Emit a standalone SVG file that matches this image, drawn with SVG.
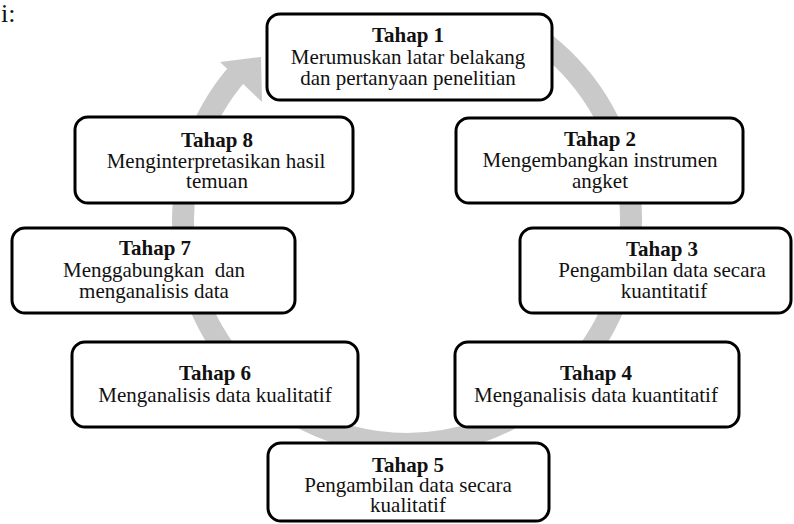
<svg xmlns="http://www.w3.org/2000/svg" width="794" height="524" viewBox="0 0 794 524">
<style>
.box{fill:#fff;stroke:#000;stroke-width:3}
text{font-family:"Liberation Serif","Times New Roman",serif;font-size:21px;fill:#111;text-anchor:middle}
.t{font-weight:bold}
.ring{fill:none;stroke:#c9c9c9;stroke-width:22}
</style>
<rect width="794" height="524" fill="#fff"/>
<text x="1" y="22" style="text-anchor:start;font-size:26px">i:</text>
<g id="connectors">
<path class="ring" d="M 519 26 A 224 224 0 1 1 237.95 73.04"/>
<polygon points="220,62 262,102 261,57" fill="#c9c9c9"/>
</g>
<g id="node1">
<rect class="box" x="267" y="14" width="285" height="86" rx="13"/>
<text class="t" x="408" y="42">Tahap 1</text>
<text x="408" y="64">Merumuskan latar belakang</text>
<text x="408" y="85">dan pertanyaan penelitian</text>
</g>
<g id="node2">
<rect class="box" x="456" y="118" width="287" height="85" rx="13"/>
<text class="t" x="600" y="146">Tahap 2</text>
<text x="600" y="167">Mengembangkan instrumen</text>
<text x="600" y="188">angket</text>
</g>
<g id="node3">
<rect class="box" x="520" y="228" width="271" height="85" rx="13"/>
<text class="t" x="662" y="256">Tahap 3</text>
<text x="662" y="277">Pengambilan data secara</text>
<text x="664" y="298">kuantitatif</text>
</g>
<g id="node4">
<rect class="box" x="455" y="342" width="284" height="85" rx="13"/>
<text class="t" x="596" y="380">Tahap 4</text>
<text x="596" y="402">Menganalisis data kuantitatif</text>
</g>
<g id="node5">
<rect class="box" x="268" y="443" width="281" height="78" rx="13"/>
<text class="t" x="408" y="472">Tahap 5</text>
<text x="408" y="492">Pengambilan data secara</text>
<text x="408" y="512">kualitatif</text>
</g>
<g id="node6">
<rect class="box" x="72" y="342" width="286" height="85" rx="13"/>
<text class="t" x="215" y="380">Tahap 6</text>
<text x="215" y="402">Menganalisis data kualitatif</text>
</g>
<g id="node7">
<rect class="box" x="12" y="228" width="283" height="85" rx="13"/>
<text class="t" x="155" y="255">Tahap 7</text>
<text x="154" y="277" xml:space="preserve">Menggabungkan  dan</text>
<text x="154" y="298">menganalisis data</text>
</g>
<g id="node8">
<rect class="box" x="75" y="117" width="278" height="86" rx="13"/>
<text class="t" x="217" y="147">Tahap 8</text>
<text x="216" y="168">Menginterpretasikan hasil</text>
<text x="217" y="188">temuan</text>
</g>
</svg>
